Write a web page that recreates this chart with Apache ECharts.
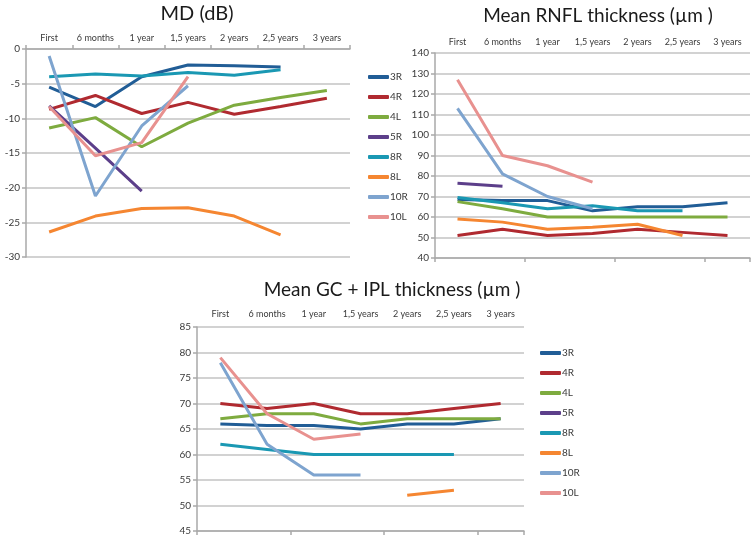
<!DOCTYPE html>
<html>
<head>
<meta charset="utf-8">
<script src="https://cdn.jsdelivr.net/npm/echarts@6/dist/echarts.min.js"></script>
<style>html,body{margin:0;padding:0;background:#fff;overflow:hidden}#c{width:755px;height:540px}</style>
</head>
<body>
<div id="c"></div>
<script>
const categories = ['First','6 months','1 year','1,5 years','2 years','2,5 years','3 years'];
const seriesNames = ['3R','4R','4L','5R','8R','8L','10R','10L'];
const seriesColors = ['#215d96','#b02a30','#7eab3f','#5c3f8a','#1a98b3','#f58631','#7ea4cf','#e8918f'];

// MD (dB)
const md3R  = [-5.5,-8.3,-4.0,-2.3,-2.4,-2.6,null];
const md4R  = [-8.7,-6.7,-9.3,-7.7,-9.4,-8.3,-7.1];
const md4L  = [-11.4,-9.9,-14.1,-10.7,-8.1,-7.0,-6.0];
const md5R  = [-8.2,-14.3,-20.5,null,null,null,null];
const md8R  = [-4.0,-3.6,-3.9,-3.4,-3.8,-3.0,null];
const md8L  = [-26.4,-24.1,-23.0,-22.9,-24.1,-26.8,null];
const md10R = [-1.0,-21.2,-11.1,-5.3,null,null,null];
const md10L = [-8.3,-15.4,-13.5,-4.0,null,null,null];

// Mean RNFL thickness
const rn3R  = [68.5,68,68,63,65,65,67];
const rn4R  = [51,54,51,52,54,52.5,51];
const rn4L  = [67.5,64,60,60,60,60,60];
const rn5R  = [76.5,75,null,null,null,null,null];
const rn8R  = [69.5,67,64,65.5,63,63,null];
const rn8L  = [59,57.5,54,55,56.5,51,null];
const rn10R = [113,81,70,64,null,null,null];
const rn10L = [127,90,85,77,null,null,null];

// Mean GC + IPL thickness
const gc3R  = [66,65.7,65.7,65,66,66,67];
const gc4R  = [70,69,70,68,68,69,70];
const gc4L  = [67,68,68,66,67,67,67];
const gc5R  = [null,null,null,null,null,null,null];
const gc8R  = [62,61,60,60,60,60,null];
const gc8L  = [null,null,null,null,52,53,null];
const gc10R = [78,62,56,56,null,null,null];
const gc10L = [79,68,63,64,null,null,null];

const mdTicks = {min:-30, max:0, interval:5};
const rnTicks = {min:40, max:140, interval:10};
const gcTicks = {min:45, max:85, interval:5};

const mdData = [md3R,md4R,md4L,md5R,md8R,md8L,md10R,md10L];
const rnData = [rn3R,rn4R,rn4L,rn5R,rn8R,rn8L,rn10R,rn10L];
const gcData = [gc3R,gc4R,gc4L,gc5R,gc8R,gc8L,gc10R,gc10L];

const FONT = 'Lato';
const txt = '#3a3a3a';
const gridColor = '#c3c3c3';
const axisColor = '#a9a9a9';

function yAxis(gi, t) {
  return {
    type:'value', gridIndex:gi, min:t.min, max:t.max, interval:t.interval,
    axisLine:{show:true, lineStyle:{color:axisColor, width:1.5}},
    axisTick:{show:true, length:4, lineStyle:{color:axisColor, width:1.5}},
    axisLabel:{color:txt, fontSize:10, fontFamily:FONT, margin:6, showMinLabel:true, showMaxLabel:true, hideOverlap:false},
    splitLine:{show:true, lineStyle:{color:gridColor, width:1.5}}
  };
}
function xTop(gi, withLine, margin) {
  return {
    type:'category', gridIndex:gi, data:categories, position:'top', boundaryGap:true,
    axisLine:{show:withLine, lineStyle:{color:axisColor, width:1.5}},
    axisTick:{show:withLine, length:4, lineStyle:{color:axisColor, width:1.5}},
    axisLabel:{show:true, color:txt, fontSize:9, fontFamily:FONT, margin:margin, interval:0},
    splitLine:{show:false}
  };
}
function xBottom(gi) {
  return {
    type:'category', gridIndex:gi, data:categories, position:'bottom', boundaryGap:true,
    axisLine:{show:true, lineStyle:{color:axisColor, width:1.5}},
    axisTick:{show:true, length:4, lineStyle:{color:axisColor, width:1.5}},
    axisLabel:{show:false},
    splitLine:{show:false}
  };
}

const series = [];
function addPanel(dataSets, xIdx, yIdx) {
  dataSets.forEach((d, i) => {
    series.push({
      type:'line', name:seriesNames[i], xAxisIndex:xIdx, yAxisIndex:yIdx,
      data:d, showSymbol:false, symbol:'none', connectNulls:false,
      lineStyle:{width:3, color:seriesColors[i]}, itemStyle:{color:seriesColors[i]},
      emphasis:{disabled:true}, z:2
    });
  });
}
addPanel(mdData, 0, 0);
addPanel(rnData, 2, 1);
addPanel(gcData, 4, 2);

function legend(left, top) {
  return {
    orient:'vertical', left:left, top:top, padding:0, itemGap:8,
    itemWidth:21, itemHeight:4, icon:'roundRect', selectedMode:false,
    textStyle:{color:txt, fontSize:10, fontFamily:FONT, lineHeight:12, padding:[0,0,0,-4]},
    data:seriesNames
  };
}

const option = {
  backgroundColor:'#ffffff',
  animation:false,
  title:[
    {text:'MD (dB)', left:192, top:-1, textAlign:'center', textStyle:{fontFamily:FONT, fontSize:20, fontWeight:'normal', color:'#1a1a1a'}},
    {text:'Mean RNFL thickness (µm )', left:593, top:1, textAlign:'center', textStyle:{fontFamily:FONT, fontSize:19, fontWeight:'normal', color:'#1a1a1a'}},
    {text:'Mean GC + IPL thickness (µm )', left:387, top:275, textAlign:'center', textStyle:{fontFamily:FONT, fontSize:19, fontWeight:'normal', color:'#1a1a1a'}}
  ],
  legend:[legend(368, 71), legend(540, 347)],
  grid:[
    {left:26, top:49, width:324, height:208},
    {left:435, top:53, width:315, height:205},
    {left:197, top:327, width:327, height:204}
  ],
  xAxis:[
    xTop(0, true, 6),
    xTop(1, false, 6),
    xBottom(1),
    xTop(2, false, 8),
    xBottom(2)
  ],
  yAxis:[yAxis(0, mdTicks), yAxis(1, rnTicks), yAxis(2, gcTicks)],
  series:series
};

const chart = echarts.init(document.getElementById('c'), null, {renderer:'canvas'});
chart.setOption(option);
</script>
</body>
</html>
